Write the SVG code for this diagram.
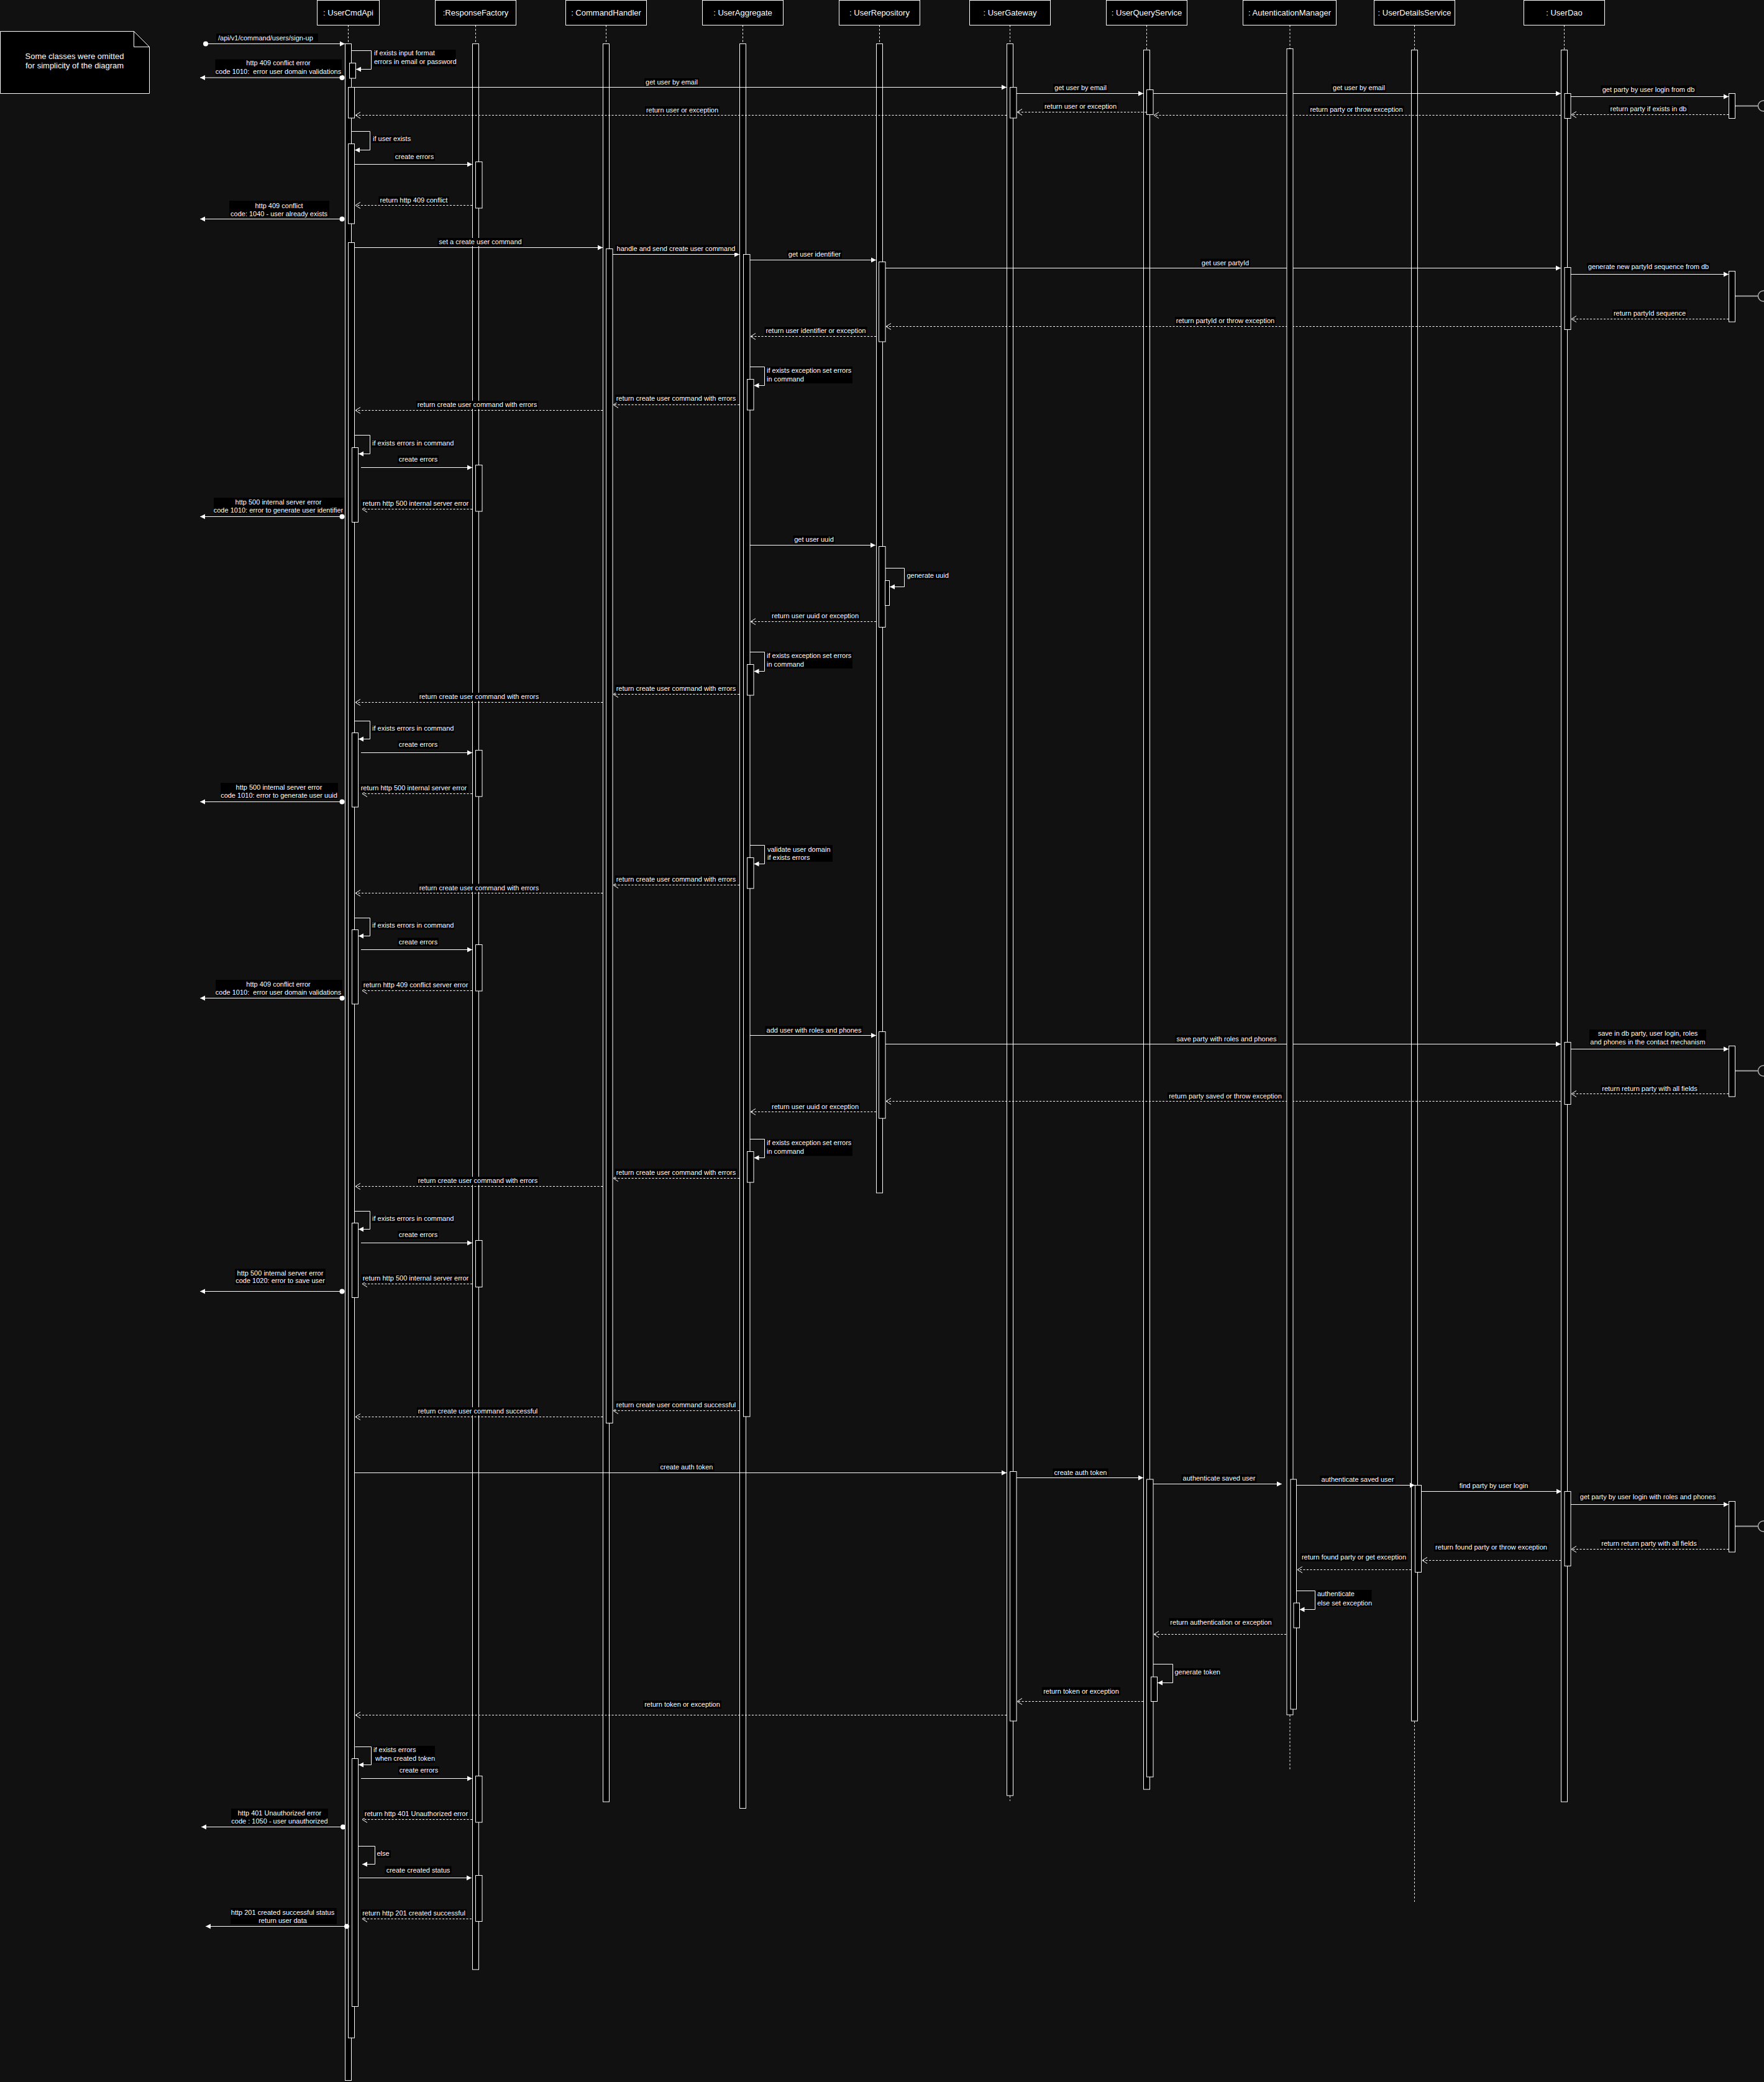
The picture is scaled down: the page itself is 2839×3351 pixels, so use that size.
<svg xmlns="http://www.w3.org/2000/svg" width="2839" height="3351" viewBox="0 0 2839 3351">
<defs>
<style>
text{font-family:"Liberation Sans",Arial,sans-serif;fill:#fff}
.ht{font-size:13px;text-anchor:middle}
.nt{font-size:13px;text-anchor:middle}
.lt{font-size:11px;text-anchor:middle}
.ls{font-size:11px;text-anchor:start}
.hdr{fill:#000;stroke:#fff;stroke-width:1}
.bar{fill:#000;stroke:#fff;stroke-width:1}
.ll{stroke:#fff;stroke-width:1;stroke-dasharray:3,3;fill:none}
.lb{fill:#000}
.msg{stroke:#fff;stroke-width:1;fill:none;marker-end:url(#fa)}
.ret{stroke:#fff;stroke-width:1;fill:none;stroke-dasharray:3,2.5;marker-end:url(#oa)}
.dot{fill:#fff}
.dbl{stroke:#a0a0a0;stroke-width:2}
.dbc{fill:none;stroke:#b0b0b0;stroke-width:1.5}
</style>
<marker id="fa" markerUnits="userSpaceOnUse" markerWidth="9" markerHeight="9" refX="8" refY="4" orient="auto" overflow="visible"><path d="M0,0 L8,4 L0,8 z" fill="#fff"/></marker>
<marker id="oa" markerUnits="userSpaceOnUse" markerWidth="10" markerHeight="11" refX="8" refY="5" orient="auto" overflow="visible"><path d="M0,0 L8,5 L0,10" fill="none" stroke="#fff" stroke-width="1"/></marker>
</defs>
<rect x="0" y="0" width="2839" height="3351" fill="#111"/>

<g id="note">
<path d="M0.5,50.5 H215.5 L240.5,75.5 V150.5 H0.5 Z" fill="#000" stroke="#fff"/>
<path d="M215.5,50.5 V75.5 H240.5" fill="none" stroke="#fff"/>
<text class="nt" x="120" y="94.5">Some classes were omitted</text>
<text class="nt" x="120" y="110">for simplicity of the diagram</text>
</g>

<g id="UserCmdApi">
<rect class="hdr" x="510.5" y="0.5" width="100" height="40"/>
<text class="ht" x="560.5" y="25">: UserCmdApi</text>
<line class="ll" x1="560.5" y1="40.5" x2="560.5" y2="70.5"/>
<rect class="bar" x="555.5" y="70.5" width="10" height="3278"/>
<rect class="bar" x="562.5" y="101.5" width="10" height="24.5"/>
<rect class="bar" x="560.5" y="140.5" width="10" height="49.5"/>
<rect class="bar" x="560.5" y="231.5" width="10" height="128.5"/>
<rect class="bar" x="560.5" y="390.5" width="10" height="2889.5"/>
<rect class="bar" x="566.5" y="720.5" width="10" height="120"/>
<rect class="bar" x="566.5" y="1179.5" width="10" height="119.5"/>
<rect class="bar" x="566.5" y="1496.5" width="10" height="119.5"/>
<rect class="bar" x="566.5" y="1968.5" width="10" height="120"/>
<rect class="bar" x="566.5" y="2830.5" width="10" height="399"/>
</g>

<g id="ResponseFactory">
<rect class="hdr" x="700.5" y="0.5" width="130" height="40"/>
<text class="ht" x="765.5" y="25">:ResponseFactory</text>
<line class="ll" x1="765.5" y1="40.5" x2="765.5" y2="70.5"/>
<rect class="bar" x="760.5" y="70.5" width="10" height="3099.5"/>
<rect class="bar" x="765.5" y="260.5" width="10.5" height="74.5"/>
<rect class="bar" x="765.5" y="748.5" width="10.5" height="74.5"/>
<rect class="bar" x="765.5" y="1207.5" width="10.5" height="74.5"/>
<rect class="bar" x="765.5" y="1520.5" width="10.5" height="74.5"/>
<rect class="bar" x="765.5" y="1996.5" width="10.5" height="75"/>
<rect class="bar" x="765.5" y="2858.5" width="10.5" height="74.5"/>
<rect class="bar" x="765.5" y="3018.5" width="10.5" height="74"/>
</g>

<g id="CommandHandler">
<rect class="hdr" x="910.5" y="0.5" width="130" height="40"/>
<text class="ht" x="975.5" y="25">: CommandHandler</text>
<line class="ll" x1="975.5" y1="40.5" x2="975.5" y2="70.5"/>
<rect class="bar" x="970.5" y="70.5" width="10" height="2829.5"/>
<rect class="bar" x="975.5" y="400.5" width="10.5" height="1890"/>
</g>

<g id="UserAggregate">
<rect class="hdr" x="1130.5" y="0.5" width="130" height="40"/>
<text class="ht" x="1195.5" y="25">: UserAggregate</text>
<line class="ll" x1="1195.5" y1="40.5" x2="1195.5" y2="70.5"/>
<rect class="bar" x="1190.5" y="70.5" width="10" height="2840"/>
<rect class="bar" x="1196.5" y="409.5" width="10.5" height="1870.5"/>
<rect class="bar" x="1202.5" y="610.5" width="10.5" height="49.5"/>
<rect class="bar" x="1202.5" y="1069.5" width="10.5" height="49.5"/>
<rect class="bar" x="1202.5" y="1380.5" width="10.5" height="49.5"/>
<rect class="bar" x="1202.5" y="1853.5" width="10.5" height="49.5"/>
</g>

<g id="UserRepository">
<rect class="hdr" x="1350.5" y="0.5" width="130" height="40"/>
<text class="ht" x="1415.5" y="25">: UserRepository</text>
<line class="ll" x1="1415.5" y1="40.5" x2="1415.5" y2="70.5"/>
<rect class="bar" x="1410.5" y="70.5" width="10" height="1849.5"/>
<rect class="bar" x="1414.5" y="421.5" width="10.5" height="128.5"/>
<rect class="bar" x="1414.5" y="879.5" width="10.5" height="130"/>
<rect class="bar" x="1414.5" y="1660.5" width="10.5" height="139.5"/>
<rect class="bar" x="1424.5" y="934.5" width="7" height="40"/>
</g>

<g id="UserGateway">
<rect class="hdr" x="1560.5" y="0.5" width="130" height="40"/>
<text class="ht" x="1625.5" y="25">: UserGateway</text>
<line class="ll" x1="1625.5" y1="40.5" x2="1625.5" y2="70.5"/>
<rect class="bar" x="1620.5" y="70.5" width="10" height="2819.5"/>
<line class="ll" x1="1625.5" y1="2890.5" x2="1625.5" y2="2898.5"/>
<rect class="bar" x="1625.5" y="140.5" width="10.5" height="49.5"/>
<rect class="bar" x="1625.5" y="2368.5" width="10.5" height="401.5"/>
</g>

<g id="UserQueryService">
<rect class="hdr" x="1780.5" y="0.5" width="130" height="40"/>
<text class="ht" x="1845.5" y="25">: UserQueryService</text>
<line class="ll" x1="1845.5" y1="40.5" x2="1845.5" y2="80.5"/>
<rect class="bar" x="1840.5" y="80.5" width="10" height="2799.5"/>
<rect class="bar" x="1845.5" y="144.5" width="10.5" height="40"/>
<rect class="bar" x="1845.5" y="2381" width="10.5" height="479"/>
<rect class="bar" x="1852.5" y="2699" width="10" height="39.5"/>
</g>

<g id="UserDetailsService">
<rect class="hdr" x="2211.5" y="0.5" width="130" height="40"/>
<text class="ht" x="2276.5" y="25">: UserDetailsService</text>
<line class="ll" x1="2276.5" y1="40.5" x2="2276.5" y2="80.5"/>
<rect class="bar" x="2271.5" y="80.5" width="10" height="2689.5"/>
<line class="ll" x1="2276.5" y1="2770.5" x2="2276.5" y2="3061"/>
<rect class="bar" x="2277.5" y="2390.5" width="10" height="140"/>
</g>

<g id="UserDao">
<rect class="hdr" x="2452.5" y="0.5" width="130" height="40"/>
<text class="ht" x="2517.5" y="25">: UserDao</text>
<line class="ll" x1="2517.5" y1="40.5" x2="2517.5" y2="80.5"/>
<rect class="bar" x="2512.5" y="80.5" width="10" height="2819.5"/>
<rect class="bar" x="2518" y="150.5" width="10" height="40"/>
<rect class="bar" x="2518" y="430.5" width="10" height="100"/>
<rect class="bar" x="2518" y="1677.5" width="10" height="100"/>
<rect class="bar" x="2518" y="2400.5" width="10" height="120"/>
</g>

<g id="Database">
<rect class="bar" x="2782.5" y="150.5" width="10" height="40"/>
<rect class="bar" x="2782.5" y="436.5" width="10" height="81.5"/>
<rect class="bar" x="2782.5" y="1683.5" width="10" height="81.5"/>
<rect class="bar" x="2782.5" y="2416.5" width="10" height="81.5"/>
<line class="dbl" x1="2793" y1="170.5" x2="2829.5" y2="170.5"/>
<line class="dbl" x1="2793" y1="476.5" x2="2829.5" y2="476.5"/>
<line class="dbl" x1="2793" y1="1723.5" x2="2829.5" y2="1723.5"/>
<line class="dbl" x1="2793" y1="2456.5" x2="2829.5" y2="2456.5"/>
<circle class="dbc" cx="2838" cy="170.5" r="8.5"/>
<circle class="dbc" cx="2838" cy="476.5" r="8.5"/>
<circle class="dbc" cx="2838" cy="1723.5" r="8.5"/>
<circle class="dbc" cx="2838" cy="2456.5" r="8.5"/>
</g>

<g id="connectors">
<!-- 1 -->
<circle class="dot" cx="331" cy="70.5" r="4"/>
<line class="msg" x1="331" y1="70.5" x2="555" y2="70.5"/>
<rect class="lb" x="348" y="54" width="164" height="13"/>
<text class="ls" x="351" y="64.5">/api/v1/command/users/sign-up</text>
<!-- 2 -->
<path class="msg" d="M566,81.5 H597.5 V111.5 H573"/>
<rect class="lb" x="600.5" y="80" width="133" height="27"/>
<text class="ls" x="602" y="89">if exists input format</text>
<text class="ls" x="602" y="103">errors in email or password</text>
<!-- 3 -->
<circle class="dot" cx="550.5" cy="125" r="4"/>
<line class="msg" x1="550.5" y1="125" x2="322" y2="125"/>
<rect class="lb" x="346.5" y="95.5" width="203.5" height="26"/>
<text class="lt" x="448" y="105">http 409 conflict error</text>
<text class="lt" x="448" y="118.5" xml:space="preserve">code 1010:  error user domain validations</text>
<!-- 4 -->
<line class="msg" x1="570.5" y1="140.5" x2="1620" y2="140.5"/>
<rect class="lb" x="1037" y="126" width="88" height="13"/>
<text class="lt" x="1081" y="136">get user by email</text>
<!-- 5 -->
<line class="msg" x1="1636" y1="150.5" x2="1840" y2="150.5"/>
<rect class="lb" x="1695" y="135" width="88" height="13"/>
<text class="lt" x="1739" y="145">get user by email</text>
<!-- 6 -->
<line class="msg" x1="1856" y1="150.5" x2="2512" y2="150.5"/>
<rect class="lb" x="2143" y="135" width="88" height="13"/>
<text class="lt" x="2187" y="145">get user by email</text>
<!-- 7 -->
<line class="msg" x1="2528" y1="155.5" x2="2782" y2="155.5"/>
<rect class="lb" x="2576.5" y="137.5" width="153" height="13"/>
<text class="lt" x="2653" y="147.5">get party by user login from db</text>
<!-- 8 -->
<line class="ret" x1="2782" y1="184.5" x2="2529" y2="184.5"/>
<rect class="lb" x="2589.5" y="169" width="127" height="13"/>
<text class="lt" x="2653" y="179">return party if exists in db</text>
<!-- 9 -->
<line class="ret" x1="2512" y1="185.5" x2="1857" y2="185.5"/>
<rect class="lb" x="2106.5" y="170" width="153" height="13"/>
<text class="lt" x="2183" y="180">return party or throw exception</text>
<!-- 10 -->
<line class="ret" x1="1845" y1="180.5" x2="1637" y2="180.5"/>
<rect class="lb" x="1679" y="165" width="120" height="13"/>
<text class="lt" x="1739" y="175">return user or exception</text>
<!-- 11 -->
<line class="ret" x1="1620" y1="185.5" x2="572" y2="185.5"/>
<rect class="lb" x="1038" y="171" width="120" height="13"/>
<text class="lt" x="1098" y="181">return user or exception</text>
<!-- 12 -->
<path class="msg" d="M565.5,211.5 H595.5 V241.5 H571"/>
<rect class="lb" x="598" y="218" width="63" height="12"/>
<text class="ls" x="600" y="227">if user exists</text>
<!-- 13 -->
<line class="msg" x1="571" y1="264.5" x2="760" y2="264.5"/>
<rect class="lb" x="634" y="246" width="66" height="13"/>
<text class="lt" x="667" y="256">create errors</text>
<!-- 14 -->
<line class="ret" x1="760" y1="330.5" x2="572" y2="330.5"/>
<rect class="lb" x="609.5" y="316" width="113" height="13"/>
<text class="lt" x="666" y="326">return http 409 conflict</text>
<!-- 15 -->
<circle class="dot" cx="550.5" cy="352.5" r="4"/>
<line class="msg" x1="550.5" y1="352.5" x2="322" y2="352.5"/>
<rect class="lb" x="369" y="323" width="161" height="26"/>
<text class="lt" x="449" y="335">http 409 conflict</text>
<text class="lt" x="449" y="348">code: 1040 - user already exists</text>
<!-- 16 -->
<line class="msg" x1="570.5" y1="398.5" x2="970" y2="398.5"/>
<rect class="lb" x="704.5" y="383" width="137" height="13"/>
<text class="lt" x="773" y="393">set a create user command</text>
<!-- 17 -->
<line class="msg" x1="986" y1="409.5" x2="1190" y2="409.5"/>
<rect class="lb" x="990.5" y="394" width="195" height="13"/>
<text class="lt" x="1088" y="404">handle and send create user command</text>
<!-- 18 -->
<line class="msg" x1="1207" y1="418.5" x2="1410" y2="418.5"/>
<rect class="lb" x="1267" y="403" width="88" height="13"/>
<text class="lt" x="1311" y="413">get user identifier</text>
<!-- 19 -->
<line class="msg" x1="1425" y1="431.5" x2="2512" y2="431.5"/>
<rect class="lb" x="1932" y="416.5" width="80" height="13"/>
<text class="lt" x="1972" y="426.5">get user partyId</text>
<!-- 20 -->
<line class="msg" x1="2528" y1="441.5" x2="2782" y2="441.5"/>
<rect class="lb" x="2554" y="423" width="198" height="13"/>
<text class="lt" x="2653" y="433">generate new partyId sequence from db</text>
<!-- 21 -->
<line class="ret" x1="2782" y1="513.5" x2="2529" y2="513.5"/>
<rect class="lb" x="2595" y="498" width="120" height="13"/>
<text class="lt" x="2655" y="508">return partyId sequence</text>
<!-- 22 -->
<line class="ret" x1="2512" y1="525.5" x2="1426" y2="525.5"/>
<rect class="lb" x="1891" y="510" width="162" height="13"/>
<text class="lt" x="1972" y="520">return partyId or throw exception</text>
<!-- 23 -->
<line class="ret" x1="1410" y1="541.5" x2="1208" y2="541.5"/>
<rect class="lb" x="1230.5" y="526" width="165" height="13"/>
<text class="lt" x="1313" y="536">return user identifier or exception</text>
<!-- 24 -->
<path class="msg" d="M1207,590.5 H1230.5 V620.5 H1213.5"/>
<rect class="lb" x="1232" y="590" width="140" height="27"/>
<text class="ls" x="1234" y="600">if exists exception set errors</text>
<text class="ls" x="1234" y="614">in command</text>
<!-- 25 -->
<line class="ret" x1="1190" y1="651.5" x2="987" y2="651.5"/>
<rect class="lb" x="990" y="635" width="196" height="13"/>
<text class="lt" x="1088" y="645">return create user command with errors</text>
<!-- 26 -->
<line class="ret" x1="970" y1="660.5" x2="572" y2="660.5"/>
<rect class="lb" x="670" y="645" width="196" height="13"/>
<text class="lt" x="768" y="655">return create user command with errors</text>
<!-- 27 -->
<path class="msg" d="M571,700.5 H595.5 V730.5 H577"/>
<rect class="lb" x="597" y="708" width="134" height="12"/>
<text class="ls" x="599" y="717">if exists errors in command</text>
<!-- 28 -->
<line class="msg" x1="581" y1="752.5" x2="760" y2="752.5"/>
<rect class="lb" x="640" y="733" width="66" height="13"/>
<text class="lt" x="673" y="743">create errors</text>
<!-- 29 -->
<line class="ret" x1="760" y1="819.5" x2="583" y2="819.5"/>
<rect class="lb" x="581.5" y="804" width="175" height="13"/>
<text class="lt" x="669" y="814">return http 500 internal server error</text>
<!-- 30 -->
<circle class="dot" cx="550.5" cy="831.5" r="4"/>
<line class="msg" x1="550.5" y1="831.5" x2="322" y2="831.5"/>
<rect class="lb" x="344" y="801" width="210" height="26"/>
<text class="lt" x="448" y="812">http 500 internal server error</text>
<text class="lt" x="448" y="825">code 1010: error to generate user identifier</text>
<!-- 31 -->
<line class="msg" x1="1207" y1="877.5" x2="1409" y2="877.5"/>
<rect class="lb" x="1276.5" y="862" width="67" height="13"/>
<text class="lt" x="1310" y="872">get user uuid</text>
<!-- 32 -->
<path class="msg" d="M1425,914.5 H1455.5 V944.5 H1432"/>
<rect class="lb" x="1459" y="920" width="67" height="12.5"/>
<text class="ls" x="1459.5" y="930">generate uuid</text>
<!-- 33 -->
<line class="ret" x1="1410" y1="1000.5" x2="1208" y2="1000.5"/>
<rect class="lb" x="1240" y="985" width="144" height="13"/>
<text class="lt" x="1312" y="995">return user uuid or exception</text>
<!-- 34 -->
<path class="msg" d="M1207,1049.5 H1230.5 V1080.5 H1213.5"/>
<rect class="lb" x="1232" y="1049" width="140" height="27"/>
<text class="ls" x="1234" y="1059">if exists exception set errors</text>
<text class="ls" x="1234" y="1073">in command</text>
<!-- 35 -->
<line class="ret" x1="1190" y1="1117.5" x2="987" y2="1117.5"/>
<rect class="lb" x="990" y="1102" width="196" height="13"/>
<text class="lt" x="1088" y="1112">return create user command with errors</text>
<!-- 36 -->
<line class="ret" x1="970" y1="1130.5" x2="572" y2="1130.5"/>
<rect class="lb" x="673" y="1115" width="196" height="13"/>
<text class="lt" x="771" y="1125">return create user command with errors</text>
<!-- 37 -->
<path class="msg" d="M571,1160.5 H595.5 V1189.5 H577"/>
<rect class="lb" x="597" y="1167" width="134" height="12"/>
<text class="ls" x="599" y="1176">if exists errors in command</text>
<!-- 38 -->
<line class="msg" x1="581" y1="1211.5" x2="760" y2="1211.5"/>
<rect class="lb" x="640" y="1192" width="66" height="13"/>
<text class="lt" x="673" y="1202">create errors</text>
<!-- 39 -->
<line class="ret" x1="760" y1="1277.5" x2="583" y2="1277.5"/>
<rect class="lb" x="578.5" y="1262" width="175" height="13"/>
<text class="lt" x="666" y="1272">return http 500 internal server error</text>
<!-- 40 -->
<circle class="dot" cx="550.5" cy="1290.5" r="4"/>
<line class="msg" x1="550.5" y1="1290.5" x2="322" y2="1290.5"/>
<rect class="lb" x="355" y="1260" width="189" height="26"/>
<text class="lt" x="449" y="1271">http 500 internal server error</text>
<text class="lt" x="449" y="1284">code 1010: error to generate user uuid</text>
<!-- 41 -->
<path class="msg" d="M1207,1360.5 H1230.5 V1390.5 H1213.5"/>
<rect class="lb" x="1233" y="1360" width="107" height="27"/>
<text class="ls" x="1235" y="1370.5">validate user domain</text>
<text class="ls" x="1235" y="1384">if exists errors</text>
<!-- 42 -->
<line class="ret" x1="1190" y1="1424.5" x2="987" y2="1424.5"/>
<rect class="lb" x="990" y="1409" width="196" height="13"/>
<text class="lt" x="1088" y="1419">return create user command with errors</text>
<!-- 43 -->
<line class="ret" x1="970" y1="1437.5" x2="572" y2="1437.5"/>
<rect class="lb" x="673" y="1422.5" width="196" height="13"/>
<text class="lt" x="771" y="1432.5">return create user command with errors</text>
<!-- 44 -->
<path class="msg" d="M571,1477.5 H595.5 V1506.5 H577"/>
<rect class="lb" x="597" y="1484" width="134" height="12"/>
<text class="ls" x="599" y="1493">if exists errors in command</text>
<!-- 45 -->
<line class="msg" x1="581" y1="1528.5" x2="760" y2="1528.5"/>
<rect class="lb" x="640" y="1509.5" width="66" height="13"/>
<text class="lt" x="673" y="1519.5">create errors</text>
<!-- 46 -->
<line class="ret" x1="760" y1="1594.5" x2="583" y2="1594.5"/>
<rect class="lb" x="582.5" y="1579" width="173" height="13"/>
<text class="lt" x="669" y="1589">return http 409 conflict server error</text>
<!-- 47 -->
<circle class="dot" cx="550.5" cy="1606.5" r="4"/>
<line class="msg" x1="550.5" y1="1606.5" x2="322" y2="1606.5"/>
<rect class="lb" x="347" y="1577" width="204" height="26"/>
<text class="lt" x="448" y="1588">http 409 conflict error</text>
<text class="lt" x="448" y="1601" xml:space="preserve">code 1010:  error user domain validations</text>
<!-- 48 -->
<line class="msg" x1="1207" y1="1666.5" x2="1410" y2="1666.5"/>
<rect class="lb" x="1231.5" y="1651.5" width="157" height="13"/>
<text class="lt" x="1310" y="1661.5">add user with roles and phones</text>
<!-- 49 -->
<line class="msg" x1="1425" y1="1680.5" x2="2512" y2="1680.5"/>
<rect class="lb" x="1891.5" y="1666" width="165" height="13"/>
<text class="lt" x="1974" y="1676">save party with roles and phones</text>
<!-- 50 -->
<line class="msg" x1="2528" y1="1688.5" x2="2782" y2="1688.5"/>
<rect class="lb" x="2558" y="1657" width="188" height="25"/>
<text class="lt" x="2652" y="1667">save in db party, user login, roles</text>
<text class="lt" x="2652" y="1680.5">and phones in the contact mechanism</text>
<!-- 51 -->
<line class="ret" x1="2782" y1="1760.5" x2="2529" y2="1760.5"/>
<rect class="lb" x="2576.5" y="1746" width="157" height="13"/>
<text class="lt" x="2655" y="1756">return return party with all fields</text>
<!-- 52 -->
<line class="ret" x1="2512" y1="1772.5" x2="1426" y2="1772.5"/>
<rect class="lb" x="1879" y="1758" width="186" height="13"/>
<text class="lt" x="1972" y="1768">return party saved or throw exception</text>
<!-- 53 -->
<line class="ret" x1="1410" y1="1789.5" x2="1208" y2="1789.5"/>
<rect class="lb" x="1240" y="1775" width="144" height="13"/>
<text class="lt" x="1312" y="1785">return user uuid or exception</text>
<!-- 54 -->
<path class="msg" d="M1207,1833.5 H1230.5 V1863.5 H1213.5"/>
<rect class="lb" x="1232" y="1833.5" width="140" height="27"/>
<text class="ls" x="1234" y="1843">if exists exception set errors</text>
<text class="ls" x="1234" y="1857">in command</text>
<!-- 55 -->
<line class="ret" x1="1190" y1="1896.5" x2="987" y2="1896.5"/>
<rect class="lb" x="990" y="1881" width="196" height="13"/>
<text class="lt" x="1088" y="1891">return create user command with errors</text>
<!-- 56 -->
<line class="ret" x1="970" y1="1909.5" x2="572" y2="1909.5"/>
<rect class="lb" x="671" y="1894" width="196" height="13"/>
<text class="lt" x="769" y="1904">return create user command with errors</text>
<!-- 57 -->
<path class="msg" d="M571,1949.5 H595.5 V1978.5 H577"/>
<rect class="lb" x="597" y="1956" width="134" height="12"/>
<text class="ls" x="599" y="1965">if exists errors in command</text>
<!-- 58 -->
<line class="msg" x1="581" y1="2000.5" x2="760" y2="2000.5"/>
<rect class="lb" x="640" y="1981" width="66" height="13"/>
<text class="lt" x="673" y="1991">create errors</text>
<!-- 59 -->
<line class="ret" x1="760" y1="2066.5" x2="583" y2="2066.5"/>
<rect class="lb" x="581.5" y="2051" width="175" height="13"/>
<text class="lt" x="669" y="2061">return http 500 internal server error</text>
<!-- 60 -->
<circle class="dot" cx="550.5" cy="2078.5" r="4"/>
<line class="msg" x1="550.5" y1="2078.5" x2="322" y2="2078.5"/>
<rect class="lb" x="378" y="2042" width="146" height="26"/>
<text class="lt" x="451" y="2052.5">http 500 internal server error</text>
<text class="lt" x="451" y="2065">code 1020: error to save user</text>
<!-- 61 -->
<line class="ret" x1="1190" y1="2270.5" x2="987" y2="2270.5"/>
<rect class="lb" x="990" y="2255" width="196" height="13"/>
<text class="lt" x="1088" y="2265">return create user command successful</text>
<!-- 62 -->
<line class="ret" x1="970" y1="2280.5" x2="572" y2="2280.5"/>
<rect class="lb" x="671" y="2265" width="196" height="13"/>
<text class="lt" x="769" y="2275">return create user command successful</text>
<!-- 63 -->
<line class="msg" x1="570.5" y1="2370.5" x2="1620" y2="2370.5"/>
<rect class="lb" x="1060.5" y="2355" width="89" height="13"/>
<text class="lt" x="1105" y="2365">create auth token</text>
<!-- 64 -->
<line class="msg" x1="1636" y1="2378.5" x2="1840" y2="2378.5"/>
<rect class="lb" x="1694.5" y="2363.5" width="89" height="13"/>
<text class="lt" x="1739" y="2373.5">create auth token</text>
<!-- 65 -->
<line class="msg" x1="1856" y1="2388.5" x2="2063" y2="2388.5"/>
<rect class="lb" x="1901.5" y="2373" width="121" height="13"/>
<text class="lt" x="1962" y="2383">authenticate saved user</text>
<!-- 66 -->
<line class="msg" x1="2087" y1="2390.5" x2="2277" y2="2390.5"/>
<rect class="lb" x="2124.5" y="2375" width="121" height="13"/>
<text class="lt" x="2185" y="2385">authenticate saved user</text>
<!-- 67 -->
<line class="msg" x1="2288" y1="2400.5" x2="2513" y2="2400.5"/>
<rect class="lb" x="2346.5" y="2385" width="115" height="13"/>
<text class="lt" x="2404" y="2395">find party by user login</text>
<!-- 68 -->
<line class="msg" x1="2528" y1="2421.5" x2="2782" y2="2421.5"/>
<rect class="lb" x="2541" y="2403" width="222" height="13"/>
<text class="lt" x="2652" y="2413">get party by user login with roles and phones</text>
<!-- 69 -->
<line class="ret" x1="2782" y1="2493.5" x2="2529" y2="2493.5"/>
<rect class="lb" x="2575.5" y="2478" width="157" height="13"/>
<text class="lt" x="2654" y="2488">return return party with all fields</text>
<!-- 70 -->
<line class="ret" x1="2512" y1="2511.5" x2="2289" y2="2511.5"/>
<rect class="lb" x="2308" y="2484" width="184" height="13"/>
<text class="lt" x="2400" y="2494">return found party or throw exception</text>
<!-- 71 -->
<line class="ret" x1="2271" y1="2526.5" x2="2088" y2="2526.5"/>
<rect class="lb" x="2093" y="2500" width="172" height="13"/>
<text class="lt" x="2179" y="2510">return found party or get exception</text>
<!-- 72 -->
<path class="msg" d="M2086.5,2560.5 H2116.5 V2590.5 H2091.5"/>
<rect class="lb" x="2118.5" y="2559" width="89" height="27"/>
<text class="ls" x="2120" y="2569">authenticate</text>
<text class="ls" x="2120" y="2583.5">else set exception</text>
<!-- 73 -->
<line class="ret" x1="2070" y1="2630.5" x2="1857" y2="2630.5"/>
<rect class="lb" x="1881.5" y="2604.5" width="167" height="13"/>
<text class="lt" x="1965" y="2614.5">return authentication or exception</text>
<!-- 74 -->
<path class="msg" d="M1856,2678.5 H1887.5 V2708.5 H1863"/>
<rect class="lb" x="1890" y="2685" width="74" height="12.5"/>
<text class="ls" x="1890.5" y="2694.5">generate token</text>
<!-- 75 -->
<line class="ret" x1="1840" y1="2738.5" x2="1637" y2="2738.5"/>
<rect class="lb" x="1677" y="2715.5" width="126" height="13"/>
<text class="lt" x="1740" y="2725.5">return token or exception</text>
<!-- 76 -->
<line class="ret" x1="1620" y1="2760.5" x2="572" y2="2760.5"/>
<rect class="lb" x="1035" y="2737" width="126" height="13"/>
<text class="lt" x="1098" y="2747">return token or exception</text>
<!-- 77 -->
<path class="msg" d="M571.5,2811.5 H597.5 V2840.5 H577"/>
<rect class="lb" x="600" y="2810" width="100" height="27"/>
<text class="ls" x="601" y="2819.5">if exists errors</text>
<text class="ls" x="604" y="2834">when created token</text>
<!-- 78 -->
<line class="msg" x1="581" y1="2862.5" x2="760" y2="2862.5"/>
<rect class="lb" x="641" y="2843" width="66" height="13"/>
<text class="lt" x="674" y="2853">create errors</text>
<!-- 79 -->
<line class="ret" x1="760" y1="2928.5" x2="583" y2="2928.5"/>
<rect class="lb" x="585" y="2913" width="170" height="13"/>
<text class="lt" x="670" y="2923">return http 401 Unauthorized error</text>
<!-- 80 -->
<circle class="dot" cx="552" cy="2940.5" r="4"/>
<line class="msg" x1="552" y1="2940.5" x2="324" y2="2940.5"/>
<rect class="lb" x="372" y="2911" width="156" height="26"/>
<text class="lt" x="450" y="2922">http 401 Unauthorized error</text>
<text class="lt" x="450" y="2935">code : 1050 - user unauthorized</text>
<!-- 81 -->
<path class="msg" d="M577,2971.5 H603.5 V3000.5 H583"/>
<rect class="lb" x="605" y="2978" width="24" height="12"/>
<text class="ls" x="606.5" y="2987">else</text>
<!-- 82 -->
<line class="msg" x1="578" y1="3022.5" x2="759" y2="3022.5"/>
<rect class="lb" x="619.5" y="3003.5" width="107" height="13"/>
<text class="lt" x="673" y="3013.5">create created status</text>
<!-- 83 -->
<line class="ret" x1="759" y1="3088.5" x2="583" y2="3088.5"/>
<rect class="lb" x="581" y="3073" width="170" height="13"/>
<text class="lt" x="666" y="3083">return http 201 created successful</text>
<!-- 84 -->
<circle class="dot" cx="558" cy="3100.5" r="4"/>
<line class="msg" x1="558" y1="3100.5" x2="331" y2="3100.5"/>
<rect class="lb" x="371" y="3071" width="171" height="26"/>
<text class="lt" x="455" y="3082">http 201 created successful status</text>
<text class="lt" x="455" y="3095">return user data</text>
</g>

<g id="AutenticationManager">
<rect class="hdr" x="2000.5" y="0.5" width="150" height="40"/>
<text class="ht" x="2075.5" y="25">: AutenticationManager</text>
<line class="ll" x1="2076" y1="40.5" x2="2076" y2="78.5"/>
<rect class="bar" x="2071" y="78.5" width="10" height="2681.5"/>
<line class="ll" x1="2076" y1="2760.5" x2="2076" y2="2850"/>
<rect class="bar" x="2077" y="2381" width="9.5" height="370"/>
<rect class="bar" x="2082" y="2580" width="9.5" height="40"/>
</g>
</svg>
